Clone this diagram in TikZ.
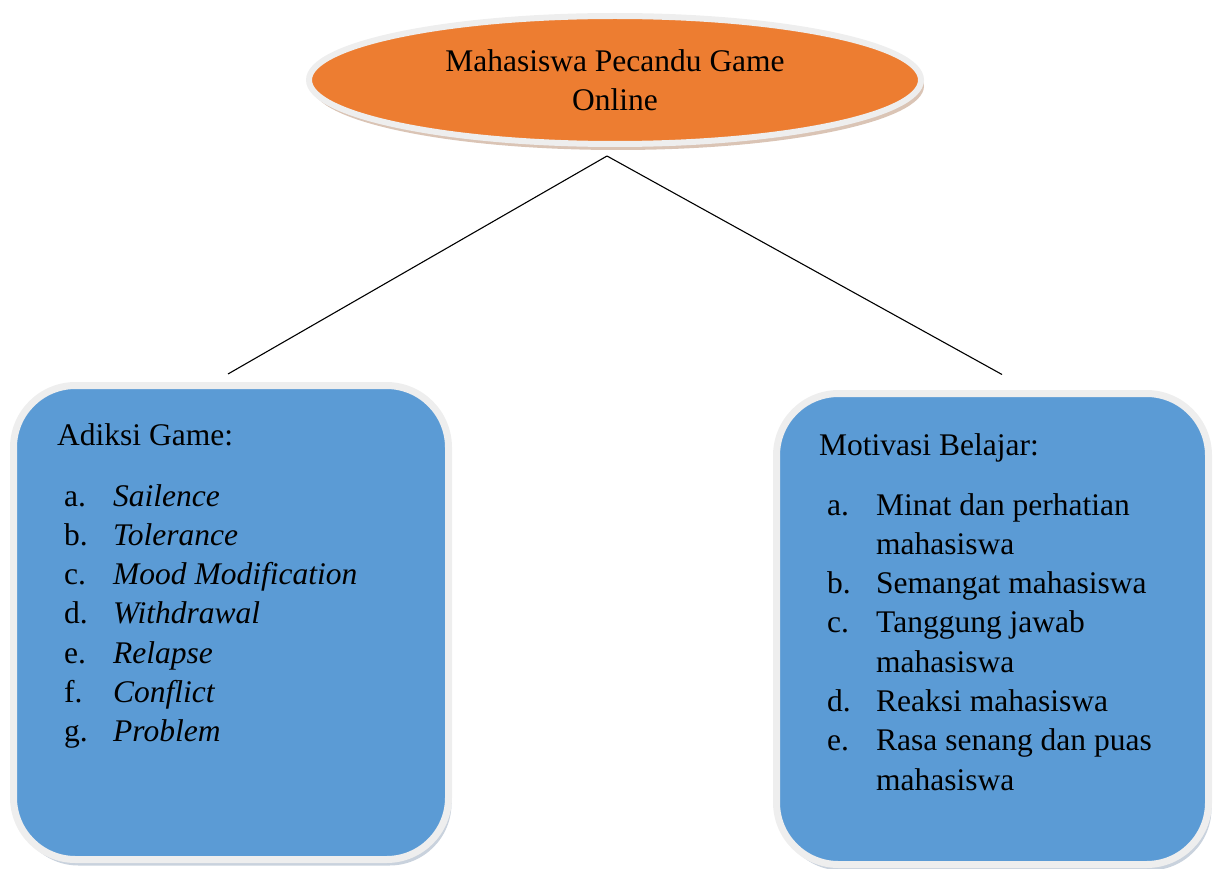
\documentclass[tikz,border=0pt]{standalone}
\usepackage{fontspec}
\setmainfont{Liberation Serif}
\usetikzlibrary{shapes.geometric, shadows}
\definecolor{GameOrange}{RGB}{237,125,49}
\definecolor{BoxBlue}{RGB}{91,155,213}
\definecolor{RingGray}{RGB}{238,238,238}
\definecolor{OrangeShade}{RGB}{218,196,181}
\definecolor{BlueShade}{RGB}{201,210,221}

\begin{document}
\begin{tikzpicture}[x=1pt, y=-1pt,
	teks/.style={font=\fontsize{31.5}{39.3}\selectfont, inner sep=0pt},
	puncak/.style={ellipse, fill=GameOrange, draw=RingGray, line width=6pt,
		minimum width=612pt, minimum height=128pt, inner sep=0pt, align=center,
		general shadow={fill=OrangeShade, shadow xshift=3pt, shadow yshift=-6pt}},
	kotak/.style={rectangle, rounded corners=62pt, fill=BoxBlue, draw=RingGray,
		line width=7pt, inner sep=0pt,
		general shadow={fill=BlueShade, shadow xshift=3pt, shadow yshift=-6pt}}]
	\useasboundingbox (0,0) rectangle (1214,869);
	% judul
	\node[puncak, teks] (game) at (615,80) {Mahasiswa Pecandu Game\\Online};
	% kotak kiri dan kanan
	\node[kotak, minimum width=435pt, minimum height=474pt] (adiksi) at (231,622.5) {};
	\node[kotak, minimum width=432pt, minimum height=471pt] (motivasi) at (992.5,629) {};
	% garis penghubung
	\coordinate (pangkal) at ([shift={(-8,9)}]game.south);
	\coordinate (ujungkiri) at ([shift={(-3,-8)}]adiksi.north);
	\coordinate (ujungkanan) at ([shift={(9.5,-15.5)}]motivasi.north);
	\draw[line width=1.1pt] (pangkal) -- (ujungkiri);
	\draw[line width=1.1pt] (pangkal) -- (ujungkanan);
	% isi adiksi game
	\node[teks, anchor=base west] (judulkiri) at (57,445) {Adiksi Game:};
	\foreach \h/\t [count=\i from 0] in {a./Sailence, b./Tolerance, c./Mood Modification,
		d./Withdrawal, e./Relapse, f./Conflict, g./Problem}{
		\node[teks, anchor=base west] (ha\i) at (64,506+39.3*\i) {\h};
		\node[teks, anchor=base west] (ta\i) at (113,506+39.3*\i) {\textit{\t}};
	}
	% isi motivasi belajar
	\node[teks, anchor=base west] (judulkanan) at (819,455) {Motivasi Belajar:};
	\foreach \h/\n in {a./0, b./2, c./3, d./5, e./6}{
		\node[teks, anchor=base west] (hb\n) at (827,515+39.3*\n) {\h};
	}
	\foreach \t [count=\i from 0] in {Minat dan perhatian, mahasiswa, Semangat mahasiswa,
		Tanggung jawab, mahasiswa, Reaksi mahasiswa, Rasa senang dan puas, mahasiswa}{
		\node[teks, anchor=base west] (tb\i) at (876,515+39.3*\i) {\t};
	}
\end{tikzpicture}
\end{document}
